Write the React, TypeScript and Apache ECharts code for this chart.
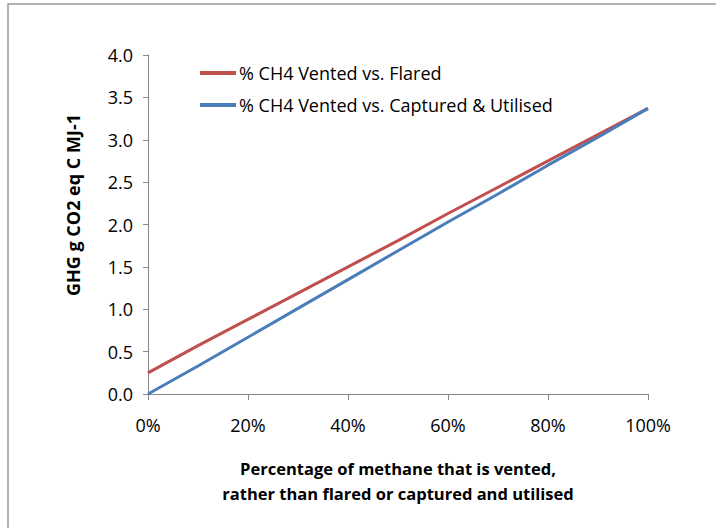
import React, { useEffect, useRef } from "react";
import * as echarts from "echarts";

const xValues = [0, 10, 20, 30, 40, 50, 60, 70, 80, 90, 100];
const flared = [0.25, 0.57, 0.88, 1.19, 1.5, 1.81, 2.13, 2.44, 2.75, 3.06, 3.37];
const captured = [0, 0.33, 0.67, 1.01, 1.35, 1.69, 2.03, 2.36, 2.7, 3.03, 3.37];
const seriesNames = ["% CH4 Vented vs. Flared", "% CH4 Vented vs. Captured & Utilised"];
const yTitle = "GHG g CO2 eq C MJ-1";
const xTitle = "Percentage of methane that is vented,\nrather than flared or captured and utilised";

const FONT = "Open Sans";

export default function App() {
  const ref = useRef<HTMLDivElement>(null);
  useEffect(() => {
    if (!ref.current) return;
    const chart = echarts.init(ref.current, null, { renderer: "svg" });
    chart.setOption({
      animation: false,
      backgroundColor: "#fff",
      textStyle: { fontFamily: FONT },
      grid: { left: 148, right: 68, top: 55, bottom: 134 },
      graphic: [
        {
          type: "rect",
          shape: { x: 8, y: 4, width: 720, height: 540 },
          style: { fill: "none", stroke: "#999", lineWidth: 1.5 },
          silent: true,
        },
        {
          type: "text",
          x: 73,
          y: 205,
          rotation: Math.PI / 2,
          style: {
            text: yTitle,
            fontSize: 18,
            fontWeight: "bold",
            fontFamily: FONT,
            fill: "#000",
            align: "center",
            verticalAlign: "middle",
          },
          silent: true,
        },
      ],
      legend: {
        orient: "vertical",
        left: 200,
        top: 64,
        itemWidth: 36,
        itemHeight: 4,
        itemGap: 14,
        icon: "rect",
        padding: 0,
        textStyle: { fontSize: 18, color: "#000", fontFamily: FONT, padding: [0, 0, 0, -2] },
        data: seriesNames,
      },
      xAxis: {
        type: "value",
        min: 0,
        max: 100,
        interval: 20,
        name: xTitle,
        nameLocation: "middle",
        nameGap: 62,
        nameTextStyle: { fontSize: 16.5, fontWeight: "bold", color: "#000", lineHeight: 25, fontFamily: FONT },
        axisLine: { show: true, lineStyle: { color: "#888", width: 1 } },
        axisTick: { show: true, length: 6, lineStyle: { color: "#888" } },
        axisLabel: { formatter: (v: number) => v + "%", fontSize: 18, color: "#000", margin: 22 },
        splitLine: { show: false },
      },
      yAxis: {
        type: "value",
        min: 0,
        max: 4,
        interval: 0.5,
        axisLine: { show: true, lineStyle: { color: "#888", width: 1 } },
        axisTick: { show: true, length: 5, lineStyle: { color: "#888" } },
        axisLabel: { formatter: (v: number) => v.toFixed(1), fontSize: 18, color: "#000", margin: 15 },
        splitLine: { show: false },
      },
      series: [
        {
          name: seriesNames[0],
          type: "line",
          data: xValues.map((x, i) => [x, flared[i]]),
          showSymbol: false,
          lineStyle: { color: "#c0504d", width: 3 },
          itemStyle: { color: "#c0504d" },
        },
        {
          name: seriesNames[1],
          type: "line",
          data: xValues.map((x, i) => [x, captured[i]]),
          showSymbol: false,
          lineStyle: { color: "#4a7ebb", width: 3 },
          itemStyle: { color: "#4a7ebb" },
        },
      ],
    });
    return () => chart.dispose();
  }, []);
  return <div ref={ref} style={{ width: 716, height: 528, position: "absolute", left: 0, top: 0 }} />;
}
